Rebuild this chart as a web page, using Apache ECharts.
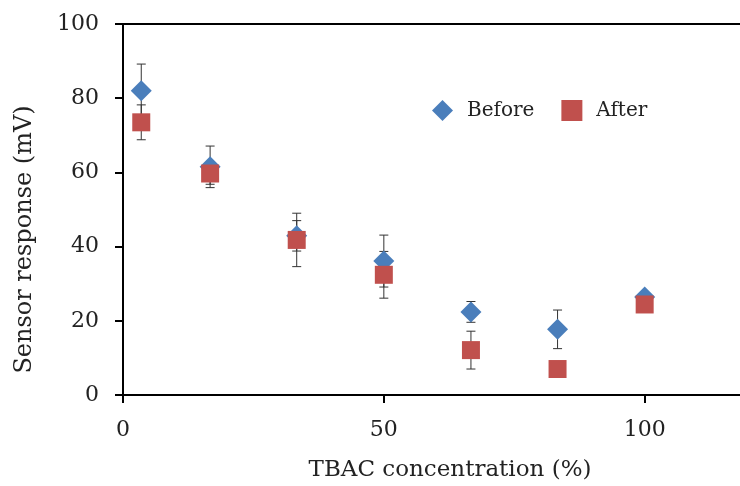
<!DOCTYPE html>
<html lang="en">
<head>
  <meta charset="UTF-8">
  <title>Sensor response vs TBAC concentration</title>
  <script src="https://cdn.jsdelivr.net/npm/echarts@6/dist/echarts.min.js"></script>
</head>
<body style="margin:0">
  <div id="main" style="width: 740px; height: 486px;"></div>
  <script>
    // values
    var concentration = [3.5, 16.7, 33.3, 50, 66.7, 83.3, 100];
    var beforeMean = [82.0, 61.5, 42.9, 36.1, 22.4, 17.7, 26.4];
    var beforeErr = [7.2, 5.6, 4.1, 7.0, 2.8, 5.2, 0];
    var afterMean = [73.5, 59.7, 41.8, 32.4, 12.1, 7.0, 24.4];
    var afterErr = [4.7, 2.9, 7.2, 6.3, 5.1, 0, 0];

    var font = 'DejaVu Serif';
    var blue = '#4a7ebb';
    var red = '#c0504d';

    var myChart = echarts.init(document.getElementById('main'));

    function points(means) {
      return concentration.map(function (x, i) { return [x, means[i]]; });
    }
    function bars(means, errs) {
      var out = [];
      concentration.forEach(function (x, i) {
        if (errs[i] > 0) out.push([x, means[i] - errs[i], means[i] + errs[i]]);
      });
      return out;
    }
    // error bar with caps
    function renderBar(params, api) {
      var lo = api.coord([api.value(0), api.value(1)]);
      var hi = api.coord([api.value(0), api.value(2)]);
      var w = 4.5;
      var style = { stroke: '#333', lineWidth: 1 };
      return {
        type: 'group',
        children: [
          { type: 'line', shape: { x1: lo[0], y1: lo[1], x2: hi[0], y2: hi[1] }, style: style },
          { type: 'line', shape: { x1: lo[0] - w, y1: lo[1], x2: lo[0] + w, y2: lo[1] }, style: style },
          { type: 'line', shape: { x1: hi[0] - w, y1: hi[1], x2: hi[0] + w, y2: hi[1] }, style: style }
        ]
      };
    }

    var option = {
      backgroundColor: '#fff',
      animation: false,
      textStyle: { fontFamily: font },
      grid: { left: 123, right: -9, top: 24, bottom: 91, outerBoundsMode: 'none' },
      legend: {
        left: 432, top: 100, padding: 0,
        itemWidth: 21, itemHeight: 21, itemGap: 27,
        textStyle: { fontFamily: font, fontSize: 20, color: '#222', padding: [0, 0, 0, 9] },
        data: [{ name: 'Before', icon: 'diamond' }, { name: 'After', icon: 'rect' }]
      },
      xAxis: [{
        type: 'value', min: 0, max: 120, interval: 50,
        name: 'TBAC concentration (%)', nameLocation: 'middle', nameGap: 64,
        nameTextStyle: { fontFamily: font, fontSize: 23, color: '#222', padding: [0, 0, 0, 28] },
        axisLine: { lineStyle: { color: '#000', width: 2 } },
        axisTick: { show: true, inside: false, length: 8, lineStyle: { color: '#000', width: 2 } },
        axisLabel: { fontFamily: font, fontSize: 22, color: '#222', margin: 24,
          formatter: function (v) { return v % 50 === 0 ? v : ''; } },
        splitLine: { show: false }
      }, {
        type: 'value', position: 'top', min: 0, max: 120,
        axisLine: { show: true, lineStyle: { color: '#000', width: 2 } },
        axisTick: { show: false }, axisLabel: { show: false }, splitLine: { show: false }
      }],
      yAxis: {
        type: 'value', min: 0, max: 100, interval: 20,
        name: 'Sensor response (mV)', nameLocation: 'middle', nameGap: 86,
        nameTextStyle: { fontFamily: font, fontSize: 24, color: '#222', padding: [0, 60, 0, 0] },
        axisLine: { show: true, lineStyle: { color: '#000', width: 2 } },
        axisTick: { show: true, length: 8, lineStyle: { color: '#000', width: 2 } },
        axisLabel: { fontFamily: font, fontSize: 22, color: '#222', margin: 24 },
        splitLine: { show: false }
      },
      series: [
        { type: 'custom', name: 'beforeErr', renderItem: renderBar, data: bars(beforeMean, beforeErr), z: 1, silent: true },
        { type: 'scatter', name: 'Before', symbol: 'diamond', symbolSize: 21, data: points(beforeMean),
          itemStyle: { color: blue, opacity: 1 }, z: 2 },
        { type: 'custom', name: 'afterErr', renderItem: renderBar, data: bars(afterMean, afterErr), z: 1, silent: true },
        { type: 'scatter', name: 'After', symbol: 'rect', symbolSize: 18, data: points(afterMean),
          itemStyle: { color: red, opacity: 1 }, z: 3 }
      ]
    };

    myChart.setOption(option);
  </script>
</body>
</html>
